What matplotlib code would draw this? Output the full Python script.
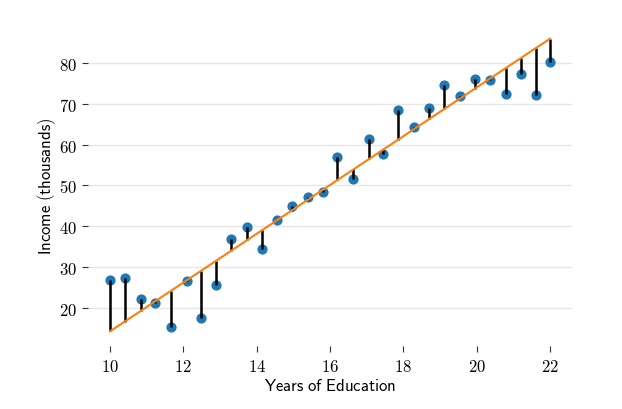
import numpy as np
import matplotlib
matplotlib.use("Agg")
import matplotlib.pyplot as plt
from matplotlib.ticker import FuncFormatter

plt.rcParams["mathtext.fontset"] = "cm"

# Income1 data (years of education vs income in thousands)
education = [10.00, 10.40, 10.84, 11.24, 11.65, 12.09, 12.49, 12.89, 13.30, 13.74,
             14.14, 14.55, 14.95, 15.39, 15.80, 16.20, 16.64, 17.05, 17.45, 17.86,
             18.30, 18.70, 19.11, 19.55, 19.95, 20.36, 20.80, 21.20, 21.61, 22.00]
income = [26.66, 27.31, 22.13, 21.17, 15.19, 26.40, 17.44, 25.51, 36.88, 39.67,
          34.40, 41.50, 44.98, 47.04, 48.25, 57.03, 51.49, 61.34, 57.58, 68.55,
          64.31, 68.96, 74.61, 71.87, 76.10, 75.78, 72.49, 77.36, 72.12, 80.26]

# fitted line
intercept = -45.75
slope = 5.99

x = np.array(education)
y = np.array(income)
yhat = intercept + slope * x

fig = plt.figure(figsize=(6.22, 4.10), dpi=100)
ax = fig.add_axes([88/622, 1-347/410, (572-88)/622, (347-25)/410])

ax.scatter(x, y, s=40, color="tab:blue", zorder=2)
ax.vlines(x, yhat, y, color="black", lw=1.8, zorder=3)
ax.plot(x, yhat, color="tab:orange", lw=1.5, zorder=4)

ax.grid(axis="y", color="#e6e6e6", lw=1)
ax.set_axisbelow(True)
for s in ax.spines.values():
    s.set_visible(False)

ax.set_xticks([10, 12, 14, 16, 18, 20, 22])
ax.set_yticks([20, 30, 40, 50, 60, 70, 80])
fmt = FuncFormatter(lambda v, p: "$%d$" % v)
ax.xaxis.set_major_formatter(fmt)
ax.yaxis.set_major_formatter(fmt)
ax.tick_params(labelsize=12, length=4.5, color="#333333")

ax.set_xlabel(r"$\mathsf{Years\ of\ Education}$", fontsize=12, labelpad=1)
ax.set_ylabel(r"$\mathsf{Income\ (thousands)}$", fontsize=12, labelpad=1)

fig.savefig("out.png", dpi=100)
